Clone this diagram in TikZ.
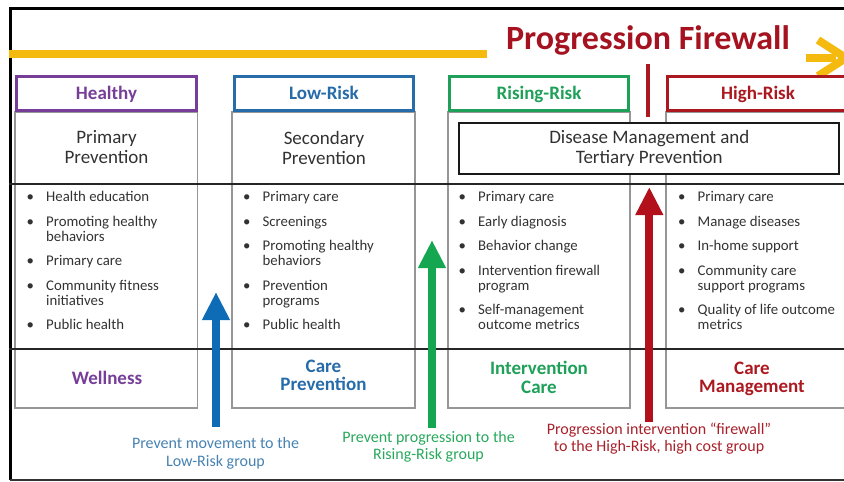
\documentclass[tikz,border=0pt]{standalone}
\usepackage{fontspec}
\setmainfont{Carlito}
\usetikzlibrary{arrows.meta}
\definecolor{hpurple}{RGB}{118,62,152}
\definecolor{hblue}{RGB}{38,108,170}
\definecolor{hgreen}{RGB}{30,160,88}
\definecolor{hred}{RGB}{172,24,32}
\definecolor{ayellow}{RGB}{244,186,16}
\definecolor{ablue}{RGB}{14,108,182}
\definecolor{agreen}{RGB}{20,166,80}
\definecolor{ared}{RGB}{178,16,26}
\definecolor{lblue}{RGB}{70,130,178}
\definecolor{lgreen}{RGB}{40,168,92}
\definecolor{lred}{RGB}{168,32,42}
\definecolor{colgray}{RGB}{150,150,150}
\definecolor{titlered}{RGB}{165,18,32}
\definecolor{txtgray}{RGB}{50,50,50}
\begin{document}
\begin{tikzpicture}[x=1pt,y=-1pt,
  hdrbox/.style={draw, fill=white, line width=3pt, minimum height=34pt, inner sep=0pt, text height=12.2pt, text depth=0pt, font=\fontsize{19}{20}\selectfont\bfseries},
  colbox/.style={draw=colgray, line width=1.1pt, minimum height=296pt, inner sep=0pt},
  prevtext/.style={align=center, font=\fontsize{19}{20}\selectfont, text=txtgray, inner sep=0pt},
  blist/.style={anchor=base west, inner sep=0pt, font=\fontsize{14.8}{15}\selectfont, text=txtgray},
  outcome/.style={align=center, font=\fontsize{19}{18.5}\selectfont\bfseries, inner sep=0pt},
  albl/.style={align=center, font=\fontsize{16}{17.5}\selectfont, inner sep=0pt},
  bigarrow/.style={line width=8pt, -{Triangle[width=26pt,length=28pt]}},
  divider/.style={line width=2pt, draw=black!85},
  yelline/.style={line width=8pt, draw=ayellow}
]
\useasboundingbox (0,0) rectangle (844,482);
\clip (0,0) rectangle (844,482);
% outer frame
\coordinate (fa) at (850,8);
\coordinate (fb) at (10,8);
\coordinate (fc) at (10,480);
\coordinate (fd) at (850,480);
\draw[line width=3pt] (fa) -- (fb) -- (fc);
\draw[line width=2pt, black!80] (fc) -- (fd);
% yellow progression arrow
\coordinate (y1) at (9,54);
\coordinate (y2) at (487,54);
\draw[yelline] (y1) -- (y2);
\coordinate (ch0) at (806,58);
\coordinate (ch1) at (836,58);
\coordinate (cu) at (818,40);
\coordinate (ct) at (846,58);
\coordinate (cl) at (818,76);
\draw[yelline] (ch0) -- (ch1);
\draw[yelline] (cu) -- (ct) -- (cl);
\node[font=\fontsize{34}{36}\selectfont\bfseries, text=titlered, anchor=base, inner sep=0pt] (title) at (648,49.5) {Progression Firewall};
% columns
\node[colbox, minimum width=182.5pt] (c1) at (106.25,260) {};
\node[colbox, minimum width=183pt] (c2) at (323.5,260) {};
\node[colbox, minimum width=182pt] (c3) at (539,260) {};
\node[colbox, minimum width=184pt] (c4) at (758,260) {};
% headers
\node[hdrbox, draw=hpurple, text=hpurple, minimum width=180pt] (h1) at (106.5,93.7) {Healthy};
\node[hdrbox, draw=hblue, text=hblue, minimum width=179pt] (h2) at (324,93.7) {Low-Risk};
\node[hdrbox, draw=hgreen, text=hgreen, minimum width=179pt] (h3) at (539,93.7) {Rising-Risk};
\node[hdrbox, draw=hred, text=hred, minimum width=181pt] (h4) at (758,93.7) {High-Risk};
% firewall mark
\coordinate (fw1) at (648,64);
\coordinate (fw2) at (648,117);
\draw[line width=3.5pt, hred] (fw1) -- (fw2);
% dividers
\coordinate (d1a) at (9,183.5);
\coordinate (d1b) at (850,183.5);
\coordinate (d2a) at (9,349.3);
\coordinate (d2b) at (850,349.3);
\draw[divider] (d1a) -- (d1b);
\draw[divider] (d2a) -- (d2b);
% prevention titles
\node[prevtext] (p1) at (106.5,147.5) {Primary\\Prevention};
\node[prevtext] (p2) at (324,147.5) {Secondary\\Prevention};
\node[prevtext, draw=black!90, line width=2pt, fill=white, minimum width=380pt, minimum height=51pt] (p3) at (649.3,148.3) {Disease Management and\\Tertiary Prevention};
% bullet lists
\node[blist] (l1) at (26.5,201.7) {\begin{tabular}[t]{@{}p{19.5pt}@{}l@{}}
\textbullet & Health education\\[9.5pt]
\textbullet & Promoting healthy\\ & behaviors\\[9.5pt]
\textbullet & Primary care\\[9.5pt]
\textbullet & Community fitness\\ & initiatives\\[9.5pt]
\textbullet & Public health
\end{tabular}};
\node[blist] (l2) at (243,201.7) {\begin{tabular}[t]{@{}p{19.5pt}@{}l@{}}
\textbullet & Primary care\\[9.5pt]
\textbullet & Screenings\\[9.5pt]
\textbullet & Promoting healthy\\ & behaviors\\[9.5pt]
\textbullet & Prevention\\ & programs\\[9.5pt]
\textbullet & Public health
\end{tabular}};
\node[blist] (l3) at (458.5,201.7) {\begin{tabular}[t]{@{}p{19.5pt}@{}l@{}}
\textbullet & Primary care\\[9.5pt]
\textbullet & Early diagnosis\\[9.5pt]
\textbullet & Behavior change\\[9.5pt]
\textbullet & Intervention firewall\\ & program\\[9.5pt]
\textbullet & Self-management\\ & outcome metrics
\end{tabular}};
\node[blist] (l4) at (678,201.7) {\begin{tabular}[t]{@{}p{19.5pt}@{}l@{}}
\textbullet & Primary care\\[9.5pt]
\textbullet & Manage diseases\\[9.5pt]
\textbullet & In-home support\\[9.5pt]
\textbullet & Community care\\ & support programs\\[9.5pt]
\textbullet & Quality of life outcome\\ & metrics
\end{tabular}};
% outcome labels
\node[outcome, text=hpurple] (o1) at (107,378) {Wellness};
\node[outcome, text=hblue] (o2) at (323.5,375.5) {Care\\Prevention};
\node[outcome, text=hgreen] (o3) at (539,377.4) {Intervention\\Care};
\node[outcome, text=hred] (o4) at (752,379) {Care\\Management};
% arrows
\coordinate (ab1) at (216,427);
\coordinate (ab2) at (216,292);
\coordinate (ag1) at (432,428);
\coordinate (ag2) at (432,240);
\coordinate (ar1) at (649.3,422);
\coordinate (ar2) at (649.3,187);
\draw[bigarrow, ablue] (ab1) -- (ab2);
\draw[bigarrow, agreen] (ag1) -- (ag2);
\draw[bigarrow, ared] (ar1) -- (ar2);
% arrow labels
\node[albl, text=lblue] (t1) at (215.5,453.2) {Prevent movement to the\\Low-Risk group};
\node[albl, text=lgreen] (t2) at (428.5,446.7) {Prevent progression to the\\Rising-Risk group};
\node[albl, text=lred] (t3) at (659,438.7) {Progression intervention “firewall”\\to the High-Risk, high cost group};
\end{tikzpicture}
\end{document}
